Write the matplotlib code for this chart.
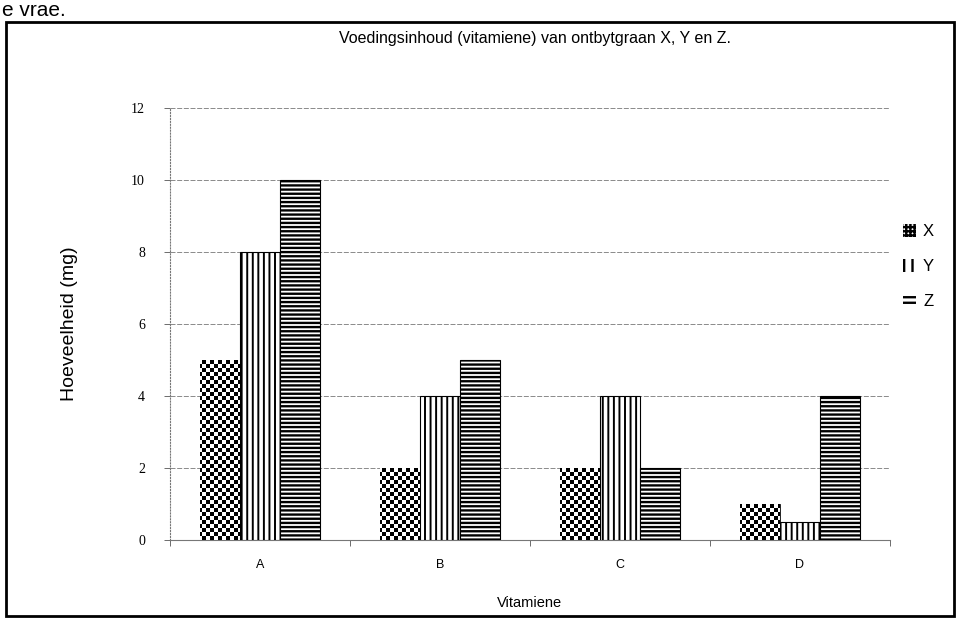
import numpy as np
import matplotlib
matplotlib.use("Agg")
import matplotlib.pyplot as plt
from matplotlib.patches import Patch, Rectangle

categories = ["A", "B", "C", "D"]
series_names = ["X", "Y", "Z"]
values_x = [5, 2, 2, 1]
values_y = [8, 4, 4, 0.5]
values_z = [10, 5, 2, 4]
yticks = [0, 2, 4, 6, 8, 10, 12]

plt.rcParams['hatch.color'] = 'black'

fig = plt.figure(figsize=(9.6, 6.35), dpi=100)
ax = fig.add_axes([0.177, 0.150, 0.750, 0.680])

xpos = np.arange(len(categories))
w = 0.222
offsets = [-w, 0, w]

# X bars (checkerboard via clipped image)
bars_x = ax.bar(xpos + offsets[0], values_x, w, facecolor='white', edgecolor='black',
                linewidth=0.6, zorder=3)
ny, nx = 108, 180
checker = (np.add.outer(np.arange(ny), np.arange(nx)) % 2).astype(float)
for b in bars_x:
    im = ax.imshow(checker, cmap='gray', extent=[-0.5, 3.5, 0, 12], aspect='auto',
                   interpolation='nearest', zorder=3.5, origin='lower')
    im.set_clip_path(b)

plt.rcParams['hatch.linewidth'] = 1.4
ax.bar(xpos + offsets[1], values_y, w, facecolor='white', edgecolor='black',
       hatch='|||', linewidth=0.8, zorder=3)
plt.rcParams['hatch.linewidth'] = 1.7
ax.bar(xpos + offsets[2], values_z, w, facecolor='white', edgecolor='black',
       hatch='----', linewidth=0.8, zorder=3)

ax.set_xlim(-0.5, 3.5)
ax.set_ylim(0, 12)
ax.set_yticks(yticks)
ax.set_yticklabels([str(t) for t in yticks], family='Liberation Serif', fontsize=10)
ax.set_xticks(xpos)
ax.set_xticklabels(categories, family='Liberation Sans', fontsize=9)
ax.set_xticks(np.arange(-0.5, 4.0, 1.0), minor=True)
ax.tick_params(axis='x', which='major', length=0, pad=14)
ax.tick_params(axis='x', which='minor', length=4, width=0.6, color='#555555')
ax.tick_params(axis='y', length=4, width=0.6, color='#555555', pad=14)
ax.yaxis.grid(True, color='#777777', linestyle=(0, (6, 2)), linewidth=0.6, zorder=0)
for s in ['top', 'right']:
    ax.spines[s].set_visible(False)
ax.spines['left'].set_color('#777777')
ax.spines['left'].set_linestyle(':')
ax.spines['left'].set_linewidth(0.8)
ax.spines['bottom'].set_color('#777777')
ax.spines['bottom'].set_linewidth(0.8)

ax.set_xlabel("Vitamiene", family='Liberation Sans', fontsize=10.5, labelpad=18)
ax.set_ylabel("Hoeveelheid (mg)", family='Liberation Sans', fontsize=14, labelpad=38)

fig.text(0.557, 0.94, "Voedingsinhoud (vitamiene) van ontbytgraan X, Y en Z.",
         ha='center', va='center', family='Liberation Sans', fontsize=11.5)
fig.text(0.002, 0.998, "e vrae.", ha='left', va='top', family='Liberation Sans', fontsize=15)

# legend
handles = [Patch(facecolor='white', edgecolor='black', hatch='++++', linewidth=0),
           Patch(facecolor='white', edgecolor='black', hatch='||', linewidth=0),
           Patch(facecolor='white', edgecolor='black', hatch='---', linewidth=0)]
leg = fig.legend(handles, series_names, loc='center left', bbox_to_anchor=(0.925, 0.58),
                 frameon=False, handlelength=0.8, handleheight=0.8, handletextpad=0.4,
                 labelspacing=1.2, prop={'family': 'Liberation Sans', 'size': 12})

# frame box
fig.patches.append(Rectangle((0.006, 0.03), 0.988, 0.935, transform=fig.transFigure,
                             fill=False, edgecolor='black', linewidth=2))

fig.savefig("out.png", dpi=100, facecolor='white')
